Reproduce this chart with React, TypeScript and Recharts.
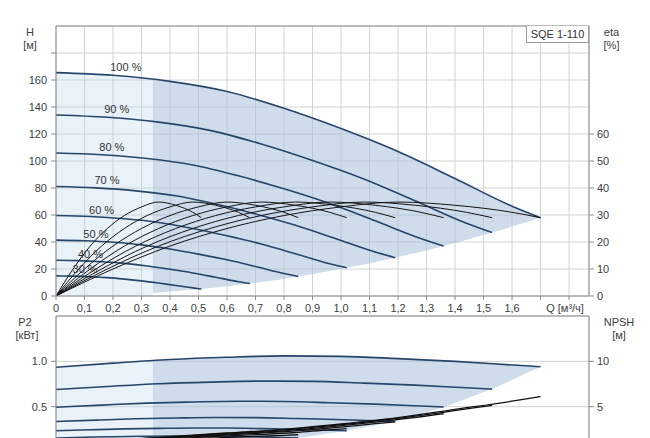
import React from 'react';
import {
  ComposedChart,
  Line,
  Area,
  XAxis,
  YAxis,
  CartesianGrid,
  ReferenceLine,
  Scatter,
} from 'recharts';

// ---------- axis ticks ----------
const qTicks = [0, 0.1, 0.2, 0.3, 0.4, 0.5, 0.6, 0.7, 0.8, 0.9, 1.0, 1.1, 1.2, 1.3, 1.4, 1.5, 1.6, 1.7, 1.8];
const hTicks = [0, 20, 40, 60, 80, 100, 120, 140, 160, 180];
const etaTicks = [0, 10, 20, 30, 40, 50, 60];
const p2Ticks = [0.5, 1.0];
const npshTicks = [5, 10];

// ---------- speed labels ----------
const speedLabels = ['100 %', '90 %', '80 %', '70 %', '60 %', '50 %', '40 %', '30 %'];
const labelQ = [0.245, 0.213, 0.196, 0.179, 0.16, 0.14, 0.121, 0.102];
const labelH = [169.5, 138.5, 110.5, 85.5, 63.8, 45.5, 31.1, 19.8];

// ---------- flow points per speed curve ----------
const q100 = [0, 0.2, 0.4, 0.6, 0.8, 1.0, 1.2, 1.4, 1.6, 1.7];
const q90 = [0, 0.18, 0.36, 0.54, 0.72, 0.9, 1.08, 1.26, 1.44, 1.53];
const q80 = [0, 0.16, 0.32, 0.48, 0.64, 0.8, 0.96, 1.12, 1.28, 1.36];
const q70 = [0, 0.14, 0.28, 0.42, 0.56, 0.7, 0.84, 0.98, 1.12, 1.19];
const q60 = [0, 0.12, 0.24, 0.36, 0.48, 0.6, 0.72, 0.84, 0.96, 1.02];
const q50 = [0, 0.1, 0.2, 0.3, 0.4, 0.5, 0.6, 0.7, 0.8, 0.85];
const q40 = [0, 0.08, 0.16, 0.24, 0.32, 0.4, 0.48, 0.56, 0.64, 0.68];
const q30 = [0, 0.06, 0.12, 0.18, 0.24, 0.3, 0.36, 0.42, 0.48, 0.51];

// ---------- head H [m] ----------
const h100 = [165.5, 163.5, 159, 151.5, 139, 124, 107, 87, 66.5, 58];
const h90 = [134.1, 132.4, 128.8, 122.7, 112.6, 100.4, 86.7, 70.5, 53.9, 47.0];
const h80 = [105.9, 104.6, 101.8, 97.0, 89.0, 79.4, 68.5, 55.7, 42.6, 37.1];
const h70 = [81.1, 80.1, 77.9, 74.2, 68.1, 60.8, 52.4, 42.6, 32.6, 28.4];
const h60 = [59.6, 58.9, 57.2, 54.5, 50.0, 44.6, 38.5, 31.3, 23.9, 20.9];
const h50 = [41.4, 40.9, 39.8, 37.9, 34.8, 31.0, 26.8, 21.8, 16.6, 14.5];
const h40 = [26.5, 26.2, 25.4, 24.2, 22.2, 19.8, 17.1, 13.9, 10.6, 9.3];
const h30 = [14.9, 14.7, 14.3, 13.6, 12.5, 11.2, 9.6, 7.8, 6.0, 5.2];

// ---------- efficiency eta [%] (same profile at every speed) ----------
const etaPct = [0, 10, 18.5, 25, 29.8, 33, 34.8, 33.6, 31, 29];

// ---------- power P2 [kW] ----------
const p100 = [0.935, 0.98, 1.02, 1.045, 1.06, 1.055, 1.03, 1.0, 0.96, 0.94];
const p90 = [0.69, 0.723, 0.753, 0.771, 0.782, 0.779, 0.76, 0.738, 0.708, 0.694];
const p80 = [0.494, 0.517, 0.539, 0.552, 0.56, 0.557, 0.544, 0.528, 0.507, 0.496];
const p70 = [0.336, 0.352, 0.366, 0.375, 0.381, 0.379, 0.37, 0.359, 0.345, 0.337];
const p60 = [0.234, 0.245, 0.255, 0.261, 0.265, 0.264, 0.258, 0.25, 0.24, 0.235];
const p50 = [0.155, 0.163, 0.169, 0.173, 0.176, 0.175, 0.171, 0.166, 0.159, 0.156];
const p40 = [0.1, 0.105, 0.109, 0.112, 0.113, 0.113, 0.11, 0.107, 0.103, 0.101];
const p30 = [0.06, 0.063, 0.065, 0.067, 0.068, 0.068, 0.066, 0.064, 0.061, 0.06];

// ---------- NPSH [m] ----------
const n100 = [1.0, 1.3, 1.7, 2.1, 2.5, 3.1, 3.8, 4.7, 5.6, 6.1];
const n90 = [1.0, 1.25, 1.59, 1.93, 2.27, 2.72, 3.28, 3.95, 4.75, 5.14];
const n80 = [1.0, 1.21, 1.47, 1.76, 2.05, 2.33, 2.78, 3.29, 3.89, 4.22];
const n70 = [1.0, 1.16, 1.36, 1.59, 1.82, 2.05, 2.32, 2.69, 3.12, 3.32];
const n60 = [1.0, 1.11, 1.25, 1.42, 1.59, 1.77, 1.94, 2.15, 2.45, 2.57];
const n50 = [1.0, 1.07, 1.13, 1.25, 1.37, 1.48, 1.6, 1.72, 1.83, 1.9];
const n40 = [1.0, 1.02, 1.04, 1.08, 1.14, 1.2, 1.26, 1.32, 1.38, 1.4];
const n30 = [0.9, 0.92, 0.95, 0.98, 1.02, 1.06, 1.1, 1.14, 1.18, 1.2];

// ---------- shaded operating range ----------
const lightQ = [0, 0.1, 0.2, 0.3, 0.34];
const lightHTop = [165.5, 165, 163.5, 161.5, 160.4];
const lightPTop = [0.935, 0.958, 0.98, 1.0, 1.008];
const darkQ = [0.34, 0.51, 0.68, 0.85, 1.02, 1.19, 1.36, 1.53, 1.7];
const darkHTop = [160.4, 154.9, 146.5, 135.3, 122.3, 108, 91, 73.7, 58];
const darkHBottom = [2.3, 5.2, 9.3, 14.5, 20.9, 28.4, 37.1, 47.0, 58];
const darkPTop = [1.008, 1.036, 1.051, 1.059, 1.054, 1.032, 1.005, 0.973, 0.94];
const darkPBottom = [0.03, 0.06, 0.1, 0.155, 0.235, 0.337, 0.494, 0.694, 0.94];

const qSets = [q100, q90, q80, q70, q60, q50, q40, q30];
const hSets = [h100, h90, h80, h70, h60, h50, h40, h30];
const pSets = [p100, p90, p80, p70, p60, p50, p40, p30];
const nSets = [n100, n90, n80, n70, n60, n50, n40, n30];

const pts = (qs: number[], vs: number[]) => qs.map((q, i) => ({ q, v: vs[i] }));
const rng = (qs: number[], lo: number[], hi: number[]) => qs.map((q, i) => ({ q, r: [lo[i], hi[i]] }));

const hCurves = qSets.map((qs, i) => pts(qs, hSets[i]));
const etaCurves = qSets.map((qs) => pts(qs, etaPct));
const pCurves = qSets.map((qs, i) => pts(qs, pSets[i]));
const npshCurves = qSets.map((qs, i) => pts(qs, nSets[i]));
const labelData = speedLabels.map((label, i) => ({ q: labelQ[i], v: labelH[i], label }));

const lightTopArea = rng(lightQ, lightQ.map(() => 0), lightHTop);
const darkTopArea = rng(darkQ, darkHBottom, darkHTop);
const lightBottomArea = rng(lightQ, lightQ.map(() => 0), lightPTop);
const darkBottomArea = rng(darkQ, darkPBottom, darkPTop);

const FONT = '"Liberation Sans", Arial, sans-serif';
const TXT = '#404040';
const AXIS = '#8c8c8c';
const GRID = '#d3d3d3';
const CURVE = '#26456a';
const LIGHT_FILL = '#bcd3ec';
const DARK_FILL = '#a6bfdb';

const XTick = (props: any) => {
  const { x, y, payload } = props;
  const v = payload.value;
  let s = '';
  let dx = 0;
  if (Math.abs(v - 1.8) < 1e-6) {
    s = 'Q [м³/ч]';
    dx = -4;
  } else if (Math.abs(v - 1.7) < 1e-6) {
    s = '';
  } else {
    s = v === 0 ? '0' : v.toFixed(1).replace('.', ',');
  }
  return (
    <text x={x + dx} y={y} dy="0.71em" textAnchor="middle" fontSize={11} fill={TXT} fontFamily={FONT}>
      {s}
    </text>
  );
};

const tickStyle = { fontSize: 11, fill: TXT, fontFamily: FONT };

const Caption = ({ cx, cy, text }: { cx: number; cy: number; text: string }) => (
  <div
    style={{
      position: 'absolute',
      left: cx - 30,
      top: cy - 7,
      width: 60,
      height: 14,
      lineHeight: '14px',
      textAlign: 'center',
      fontSize: 11,
      color: TXT,
      fontFamily: FONT,
      whiteSpace: 'nowrap',
    }}
  >
    {text}
  </div>
);

export default function App() {
  return (
    <div
      style={{
        position: 'absolute',
        left: 0,
        top: 0,
        width: 650,
        height: 438,
        overflow: 'hidden',
        background: '#ffffff',
        fontFamily: FONT,
      }}
    >
      {/* ---------- upper chart: H and eta ---------- */}
      <div style={{ position: 'absolute', left: 0, top: 0 }}>
        <ComposedChart width={650} height={326} margin={{ top: 26, right: 0, bottom: 0, left: 0 }}>
          <CartesianGrid stroke={GRID} strokeWidth={1} />
          <XAxis
            dataKey="q"
            type="number"
            domain={[0, 1.87]}
            ticks={qTicks}
            allowDataOverflow
            height={30}
            tickSize={4}
            tickMargin={4}
            tick={<XTick />}
            axisLine={{ stroke: AXIS }}
            tickLine={{ stroke: AXIS }}
          />
          <YAxis
            type="number"
            domain={[0, 200]}
            ticks={hTicks}
            allowDataOverflow
            width={56}
            tickSize={5}
            tickMargin={4}
            tick={tickStyle}
            tickFormatter={(v: number) => (v === 180 ? '' : String(v))}
            axisLine={{ stroke: AXIS }}
            tickLine={{ stroke: AXIS }}
          />
          <YAxis
            yAxisId="eta"
            orientation="right"
            type="number"
            domain={[0, 100]}
            ticks={etaTicks}
            allowDataOverflow
            width={61}
            tickSize={5}
            tickMargin={3}
            tick={tickStyle}
            axisLine={{ stroke: AXIS }}
            tickLine={{ stroke: AXIS }}
          />
          <ReferenceLine y={200} stroke={AXIS} strokeWidth={1} />
          <Area
            data={lightTopArea}
            dataKey="r"
            type="monotone"
            stroke="none"
            fill={LIGHT_FILL}
            fillOpacity={0.32}
            isAnimationActive={false}
          />
          <Area
            data={darkTopArea}
            dataKey="r"
            type="monotone"
            stroke="none"
            fill={DARK_FILL}
            fillOpacity={0.55}
            isAnimationActive={false}
          />
          {hCurves.map((d, i) => (
            <Line
              key={'h' + i}
              data={d}
              dataKey="v"
              type="monotone"
              stroke={CURVE}
              strokeWidth={1.6}
              dot={false}
              activeDot={false}
              isAnimationActive={false}
            />
          ))}
          {etaCurves.map((d, i) => (
            <Line
              key={'e' + i}
              data={d}
              dataKey="v"
              yAxisId="eta"
              type="monotone"
              stroke="#151515"
              strokeWidth={1}
              dot={false}
              activeDot={false}
              isAnimationActive={false}
            />
          ))}
          <Scatter
            data={labelData}
            dataKey="v"
            isAnimationActive={false}
            shape={(p: any) => (
              <text
                x={p.cx}
                y={p.cy}
                dy="0.35em"
                textAnchor="middle"
                fontSize={11}
                fill="#333"
                fontFamily={FONT}
              >
                {p.payload.label}
              </text>
            )}
          />
        </ComposedChart>
      </div>

      {/* ---------- lower chart: P2 and NPSH ---------- */}
      <div style={{ position: 'absolute', left: 0, top: 296 }}>
        <ComposedChart width={650} height={186} margin={{ top: 20, right: 0, bottom: 0, left: 0 }}>
          <CartesianGrid stroke={GRID} strokeWidth={1} />
          <XAxis
            dataKey="q"
            type="number"
            domain={[0, 1.87]}
            ticks={qTicks}
            allowDataOverflow
            height={30}
            tickSize={4}
            tick={false}
            axisLine={{ stroke: AXIS }}
            tickLine={{ stroke: AXIS }}
          />
          <YAxis
            type="number"
            domain={[0, 1.5]}
            ticks={p2Ticks}
            allowDataOverflow
            width={56}
            tickSize={5}
            tickMargin={4}
            tick={tickStyle}
            tickFormatter={(v: number) => v.toFixed(1)}
            axisLine={{ stroke: AXIS }}
            tickLine={{ stroke: AXIS }}
          />
          <YAxis
            yAxisId="npsh"
            orientation="right"
            type="number"
            domain={[0, 15]}
            ticks={npshTicks}
            allowDataOverflow
            width={61}
            tickSize={5}
            tickMargin={3}
            tick={tickStyle}
            axisLine={{ stroke: AXIS }}
            tickLine={{ stroke: AXIS }}
          />
          <ReferenceLine y={1.5} stroke={AXIS} strokeWidth={1} />
          <Area
            data={lightBottomArea}
            dataKey="r"
            type="monotone"
            stroke="none"
            fill={LIGHT_FILL}
            fillOpacity={0.32}
            isAnimationActive={false}
          />
          <Area
            data={darkBottomArea}
            dataKey="r"
            type="linear"
            stroke="none"
            fill={DARK_FILL}
            fillOpacity={0.55}
            isAnimationActive={false}
          />
          {pCurves.map((d, i) => (
            <Line
              key={'p' + i}
              data={d}
              dataKey="v"
              type="monotone"
              stroke={CURVE}
              strokeWidth={1.6}
              dot={false}
              activeDot={false}
              isAnimationActive={false}
            />
          ))}
          {npshCurves.map((d, i) => (
            <Line
              key={'n' + i}
              data={d}
              dataKey="v"
              yAxisId="npsh"
              type="monotone"
              stroke="#111111"
              strokeWidth={1.3}
              dot={false}
              activeDot={false}
              isAnimationActive={false}
            />
          ))}
        </ComposedChart>
      </div>

      {/* ---------- axis captions ---------- */}
      <Caption cx={30} cy={31.5} text="H" />
      <Caption cx={30} cy={44.5} text="[м]" />
      <Caption cx={611.5} cy={32} text="eta" />
      <Caption cx={611.5} cy={45} text="[%]" />
      <Caption cx={25} cy={321.5} text="P2" />
      <Caption cx={27} cy={335} text="[кВт]" />
      <Caption cx={619} cy={321.5} text="NPSH" />
      <Caption cx={619} cy={335} text="[м]" />

      {/* ---------- product tag ---------- */}
      <div
        style={{
          position: 'absolute',
          left: 526,
          top: 26,
          width: 61,
          height: 16,
          lineHeight: '16px',
          border: '1px solid #9a9a9a',
          borderTop: 'none',
          background: '#ffffff',
          textAlign: 'center',
          fontSize: 11,
          color: '#333',
          fontFamily: FONT,
          whiteSpace: 'nowrap',
        }}
      >
        SQE 1-110
      </div>
    </div>
  );
}
